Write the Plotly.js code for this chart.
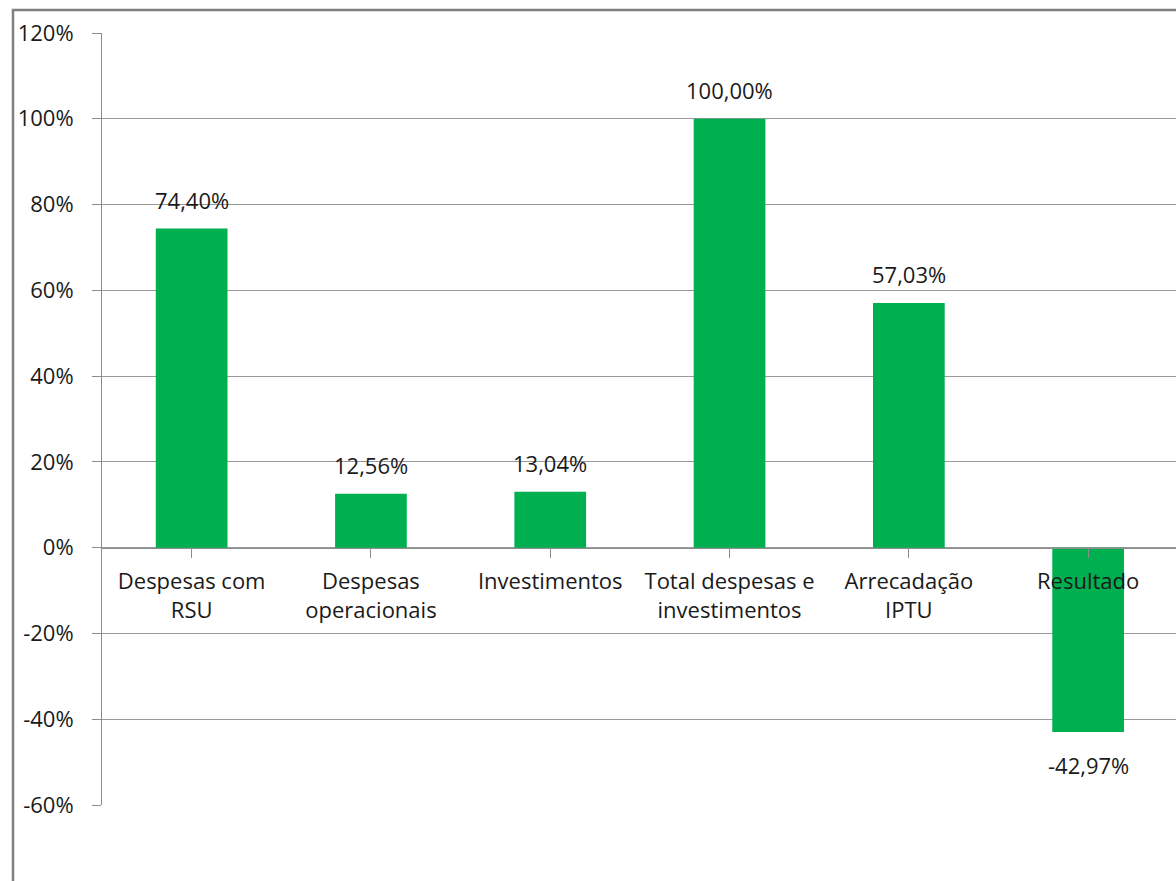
<!DOCTYPE html>
<html>
<head>
<meta charset="utf-8">
<script src="https://cdn.plot.ly/plotly-3.0.1.min.js"></script>
<style>
html,body{margin:0;padding:0;background:#fff;overflow:hidden;}
#chart{width:1176px;height:881px;}
</style>
</head>
<body>
<div id="chart"></div>
<script>
const categories = ["Despesas com<br>RSU", "Despesas<br>operacionais", "Investimentos", "Total despesas e<br>investimentos", "Arrecadação<br>IPTU", "Resultado"];
const values = [0.7440, 0.1256, 0.1304, 1.0000, 0.5703, -0.4297];
const yTicks = [-0.6, -0.4, -0.2, 0, 0.2, 0.4, 0.6, 0.8, 1.0, 1.2];
const yTickLabels = ["-60%", "-40%", "-20%", "0%", "20%", "40%", "60%", "80%", "100%", "120%"];

const fontFam = "Open Sans, sans-serif";
const txtColor = "#1a1a1a";
const gray = "#8c8c8c";

const fmt = v => (v * 100).toFixed(2).replace('.', ',') + '%';

const annotations = values.map((v, i) => ({
  x: i, y: v, xref: 'x', yref: 'y',
  text: fmt(v), showarrow: false,
  yanchor: v >= 0 ? 'bottom' : 'top',
  yshift: v >= 0 ? 12 : -16,
  font: {family: fontFam, size: 22, color: txtColor}
}));

const trace = {
  type: 'bar', x: categories.map((c, i) => i), y: values,
  marker: {color: '#00B050'}, width: 0.4, hoverinfo: 'none'
};

const layout = {
  width: 1176, height: 881,
  margin: {l: 102, r: 0, t: 33, b: 76},
  paper_bgcolor: '#fff', plot_bgcolor: '#fff',
  showlegend: false,
  xaxis: {
    range: [-0.5, 5.49],
    tickmode: 'array', tickvals: categories.map((c, i) => i), ticktext: categories,
    tickson: 'boundaries', ticks: 'outside', ticklen: 9, tickcolor: gray, tickwidth: 1,
    showline: true, linecolor: gray, linewidth: 1,
    showgrid: false, zeroline: false,
    anchor: 'free', position: 0.6 / 1.8,
    tickfont: {family: fontFam, size: 22, color: txtColor},
    ticklabelstandoff: 5
  },
  yaxis: {
    range: [-0.6, 1.2],
    tickmode: 'array', tickvals: yTicks, ticktext: yTickLabels,
    ticks: 'outside', ticklen: 9, tickcolor: gray,
    showline: true, linecolor: gray, linewidth: 1,
    showgrid: true, gridcolor: '#9a9a9a', gridwidth: 1,
    zeroline: false,
    tickfont: {family: fontFam, size: 22, color: txtColor},
    ticklabelstandoff: 14
  },
  annotations: annotations,
  shapes: [{
    type: 'rect', xref: 'paper', yref: 'paper',
    x0: (13 - 102) / 1074, x1: 1.05,
    y0: -0.2, y1: 1 + 23 / 772,
    line: {color: '#808080', width: 2.5}, fillcolor: 'rgba(0,0,0,0)', layer: 'below'
  }]
};

Plotly.newPlot('chart', [trace], layout, {displayModeBar: false, staticPlot: true});
</script>
</body>
</html>
